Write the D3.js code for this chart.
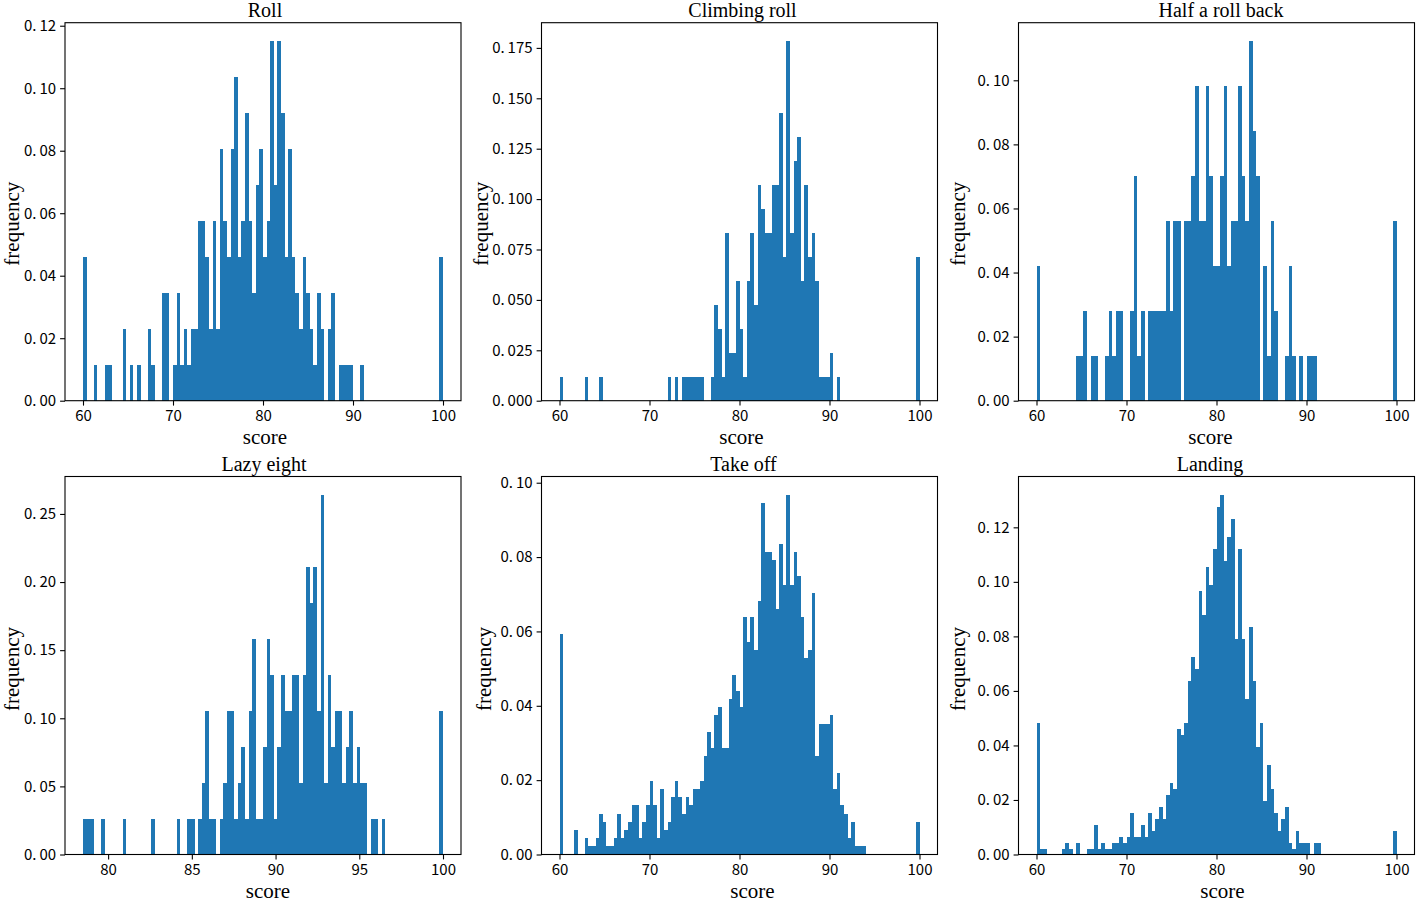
<!DOCTYPE html>
<html>
<head>
<meta charset="utf-8">
<script src="https://cdn.jsdelivr.net/npm/d3@7"></script>
<style>
  body { margin: 0; background: #fff; }
  .tick text { font-family: "Noto Sans CJK SC", "Noto Sans", sans-serif; font-size: 15px; fill: #000; }
  .tick line { stroke: #000; stroke-width: 1.1; }
  .title, .axis-label { font-family: "Liberation Serif", "Times New Roman", serif; fill: #000; }
  .bar { shape-rendering: crispEdges; }
</style>
</head>
<body>
<div id="chart-area"></div>
<script>
// score histograms, 100 bins each, counts
const titles = ["Roll", "Climbing roll", "Half a roll back", "Lazy eight", "Take off", "Landing"]
const scoreRanges = [[60, 100], [60, 100], [60, 100], [78.5, 100], [60, 100], [60, 100]]

const rollCounts = [4,0,0,1,0,0,1,1,0,0, 0,2,0,1,0,1,0,0,2,1, 0,0,3,3,0,1,3,1,2,1, 2,2,5,5,4,2,5,2,7,5,
  4,7,9,4,5,8,5,3,6,7, 4,5,10,6,10,8,4,7,4,3, 2,4,3,2,1,3,2,0,2,3, 0,1,1,1,1,0,0,1,0,0,
  0,0,0,0,0,0,0,0,0,0, 0,0,0,0,0,0,0,0,0,4]
const climbingCounts = [1,0,0,0,0,0,0,1,0,0, 0,1,0,0,0,0,0,0,0,0, 0,0,0,0,0,0,0,0,0,0, 1,0,1,0,1,1,1,1,1,1,
  0,0,1,4,3,1,7,2,2,5, 3,1,5,7,4,9,8,7,7,9, 9,12,6,15,7,10,11,5,9,6, 7,5,1,1,1,2,0,1,0,0,
  0,0,0,0,0,0,0,0,0,0, 0,0,0,0,0,0,0,0,0,6]
const halfRollCounts = [3,0,0,0,0,0,0,0,0,0, 0,1,1,2,0,1,1,0,0,1, 2,1,2,2,0,0,2,5,1,2, 0,2,2,2,2,2,4,2,4,4,
  0,4,4,5,7,4,4,7,5,3, 3,5,7,3,4,4,7,5,4,8, 6,5,0,3,1,4,2,0,0,1, 3,1,0,1,0,1,1,1,0,0,
  0,0,0,0,0,0,0,0,0,0, 0,0,0,0,0,0,0,0,0,4]
const lazyEightCounts = [1,1,1,0,0,1,0,0,0,0, 0,1,0,0,0,0,0,0,0,1, 0,0,0,0,0,0,1,0,0,1, 1,0,1,2,4,1,1,0,1,2,
  4,4,1,2,3,1,4,6,1,1, 3,6,5,1,3,5,4,4,5,5, 2,5,8,7,8,4,10,2,5,3, 4,4,2,3,4,2,3,2,2,0,
  1,1,0,1,0,0,0,0,0,0, 0,0,0,0,0,0,0,0,0,4]
const takeOffCounts = [27,0,0,0,3,0,0,2,1,1, 2,5,4,1,1,2,5,2,3,4, 6,6,2,4,6,9,6,2,8,3, 4,7,9,7,5,7,6,8,8,9,
  12,15,13,17,18,13,13,19,22,20, 18,29,26,29,25,31,43,37,37,36, 30,38,33,44,33,37,34,29,24,25,
  32,12,16,16,16,17,8,10,6,5, 2,4,1,1,1,0,0,0,0,0, 0,0,0,0,0,0,0,0,0,4]
const landingCounts = [22,1,1,0,0,0,0,1,2,1, 0,2,0,0,1,1,5,1,2,1, 1,2,2,3,2,3,7,3,3,5, 3,7,4,6,8,6,10,12,11,21,
  20,22,29,33,31,44,40,48,45,51, 58,60,49,53,56,36,51,36,26,38, 29,18,22,9,15,11,7,4,6,8,
  2,1,4,2,2,2,0,2,2,0, 0,0,0,0,0,0,0,0,0,0, 0,0,0,0,0,0,0,0,0,4]

const xTicksMain = [60, 70, 80, 90, 100]
const xTicksLazy = [80, 85, 90, 95, 100]
const yTicksRoll = [0, 0.02, 0.04, 0.06, 0.08, 0.10, 0.12]
const yTicksClimbing = [0, 0.025, 0.05, 0.075, 0.1, 0.125, 0.15, 0.175]
const yTicksHalfRoll = [0, 0.02, 0.04, 0.06, 0.08, 0.10]
const yTicksLazy = [0, 0.05, 0.10, 0.15, 0.20, 0.25]
const yTicksTakeOff = [0, 0.02, 0.04, 0.06, 0.08, 0.10]
const yTicksLanding = [0, 0.02, 0.04, 0.06, 0.08, 0.10, 0.12]

const COL_LEFT = [65, 541.5, 1018.5]
const ROW_TOP = [22.7, 476.5]
const PLOT_W = 396
const PLOT_H = 378
// small per-panel text nudges seen in the picture
const TITLE_DX = [2, 3, 4.5, 1, 4, -6.5]
const XLABEL_DX = [2, 2, -6, 5, 13, 6]
const YLABEL_X = [-46, -54, -54, -46, -51, -54]
const YLABEL_DY = [12, 12, 12, 3.5, 3.5, 3.5]

// the picture shows a gap after the decimal point
const fmt2 = d => d3.format(".2f")(d).replace(".", ".\u2009")
const fmt3 = d => d3.format(".3f")(d).replace(".", ".\u2009")

const panels = [
  { counts: rollCounts, xTicks: xTicksMain, yTicks: yTicksRoll, yFormat: fmt2 },
  { counts: climbingCounts, xTicks: xTicksMain, yTicks: yTicksClimbing, yFormat: fmt3 },
  { counts: halfRollCounts, xTicks: xTicksMain, yTicks: yTicksHalfRoll, yFormat: fmt2 },
  { counts: lazyEightCounts, xTicks: xTicksLazy, yTicks: yTicksLazy, yFormat: fmt2 },
  { counts: takeOffCounts, xTicks: xTicksMain, yTicks: yTicksTakeOff, yFormat: fmt2 },
  { counts: landingCounts, xTicks: xTicksMain, yTicks: yTicksLanding, yFormat: fmt2 }
]

const svg = d3.select("#chart-area").append("svg")
  .attr("width", 1416)
  .attr("height", 901)

panels.forEach((p, i) => {
  const col = i % 3
  const row = Math.floor(i / 3)
  const g = svg.append("g")
    .attr("transform", `translate(${COL_LEFT[col]}, ${ROW_TOP[row]})`)

  const [lo, hi] = scoreRanges[i]
  const binW = (hi - lo) / p.counts.length
  const n = d3.sum(p.counts)
  // density histogram: area sums to 1
  const bins = p.counts.map((c, j) => ({
    x0: lo + j * binW,
    x1: lo + (j + 1) * binW,
    freq: c / (n * binW)
  }))

  const pad = (hi - lo) * 0.05
  const x = d3.scaleLinear().domain([lo - pad, hi + pad]).range([0, PLOT_W])
  const y = d3.scaleLinear()
    .domain([0, d3.max(bins, d => d.freq) * 1.05])
    .range([PLOT_H, 0])

  g.selectAll("rect.bar")
    .data(bins.filter(d => d.freq > 0))
    .enter().append("rect")
      .attr("class", "bar")
      .attr("x", d => x(d.x0))
      .attr("width", d => x(d.x1) - x(d.x0))
      .attr("y", d => y(d.freq))
      .attr("height", d => PLOT_H - y(d.freq))
      .attr("fill", "#1f77b4")

  const xAxisCall = d3.axisBottom(x)
    .tickValues(p.xTicks)
    .tickFormat(d3.format("d"))
    .tickSize(4.9)
    .tickPadding(5)
  g.append("g")
    .attr("class", "x axis")
    .attr("transform", `translate(0, ${PLOT_H})`)
    .call(xAxisCall)
    .select(".domain").remove()

  const yAxisCall = d3.axisLeft(y)
    .tickValues(p.yTicks)
    .tickFormat(p.yFormat)
    .tickSize(4.9)
    .tickPadding(4)
  g.append("g")
    .attr("class", "y axis")
    .call(yAxisCall)
    .select(".domain").remove()

  // frame
  g.append("rect")
    .attr("width", PLOT_W)
    .attr("height", PLOT_H)
    .attr("fill", "none")
    .attr("stroke", "#000")
    .attr("stroke-width", 1.1)

  g.append("text")
    .attr("class", "title")
    .attr("x", PLOT_W / 2 + TITLE_DX[i])
    .attr("y", -6)
    .attr("font-size", "20px")
    .attr("text-anchor", "middle")
    .text(titles[i])

  g.append("text")
    .attr("class", "axis-label")
    .attr("x", PLOT_W / 2 + XLABEL_DX[i])
    .attr("y", PLOT_H + 43)
    .attr("font-size", "21px")
    .attr("text-anchor", "middle")
    .text("score")

  g.append("text")
    .attr("class", "axis-label")
    .attr("transform", `translate(${YLABEL_X[i]}, ${PLOT_H / 2 + YLABEL_DY[i]}) rotate(-90)`)
    .attr("font-size", "21px")
    .attr("text-anchor", "middle")
    .text("frequency")
})
</script>
</body>
</html>
